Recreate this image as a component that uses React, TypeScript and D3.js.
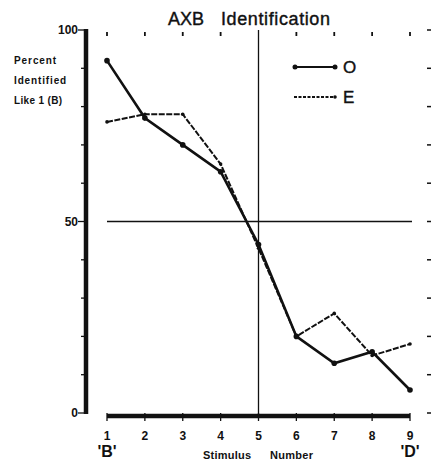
import React from 'react';
import { scaleLinear, line } from 'd3';

const stimuli = [1, 2, 3, 4, 5, 6, 7, 8, 9];
const observed = [92, 77, 70, 63, 44, 20, 13, 16, 6];
const expected = [76, 78, 78, 65, 43, 20, 26, 15, 18];
const yTicks = [0, 10, 20, 30, 40, 50, 60, 70, 80, 90, 100];
const yLabels = [0, 50, 100];
const endLabels = ["'B'", "'D'"];

const width = 432;
const height = 463;

const App = () => {
  const xScale = scaleLinear().domain([1, 9]).range([107, 410]);
  const yScale = scaleLinear().domain([0, 100]).range([413, 30]);

  const path = line<number>()
    .x((d, i) => xScale(stimuli[i]))
    .y(d => yScale(d));

  const font = 'Liberation Sans, Arial, sans-serif';
  const axisX = 86;
  const xEnd = xScale(9);

  return (
    <svg width={width} height={height} style={{ position: 'absolute', left: 0, top: 0, background: 'white' }} fontFamily={font}>
      {/* title */}
      <text x={168} y={25} fontSize={18} fill="#111" stroke="#111" strokeWidth={0.4}>AXB</text>
      <text x={221} y={25} fontSize={18} fill="#111" stroke="#111" strokeWidth={0.4} textLength={109}>Identification</text>

      {/* y axis label */}
      <text fontSize={10} fontWeight="bold" fill="#111" letterSpacing={-0.2}>
        <tspan x={14} y={64} textLength={42}>Percent</tspan>
        <tspan x={14} y={84} textLength={52}>Identified</tspan>
        <tspan x={14} y={104} textLength={48}>Like 1 (B)</tspan>
      </text>

      {/* left thick axis */}
      <line x1={axisX} x2={axisX} y1={yScale(100) - 1} y2={yScale(0) + 1} stroke="#111" strokeWidth={4.5} />
      {yTicks.map(t => (
        <line key={'l' + t} x1={axisX - (t % 50 === 0 ? 8 : 5)} x2={axisX} y1={yScale(t)} y2={yScale(t)} stroke="#111" strokeWidth={1.3} />
      ))}
      {yLabels.map(t => (
        <text key={'yl' + t} x={axisX - 8} y={yScale(t) + 4} textAnchor="end" fontSize={12} fontWeight="bold" fill="#111">{t}</text>
      ))}

      {/* right ticks */}
      {yTicks.map(t => (
        <line key={'r' + t} x1={427} x2={431} y1={yScale(t)} y2={yScale(t)} stroke="#111" strokeWidth={1.5} />
      ))}

      {/* top ticks */}
      {stimuli.filter(s => s !== 5).map(s => (
        <line key={'t' + s} x1={xScale(s)} x2={xScale(s)} y1={yScale(100) + 2} y2={yScale(100) + 6} stroke="#111" strokeWidth={1.8} />
      ))}

      {/* reference lines */}
      <line x1={xScale(5)} x2={xScale(5)} y1={yScale(100)} y2={yScale(0) + 3} stroke="#111" strokeWidth={1.3} />
      <line x1={xScale(1)} x2={xEnd + 2} y1={yScale(50)} y2={yScale(50)} stroke="#111" strokeWidth={1.3} />

      {/* bottom thick axis */}
      <line x1={xScale(1)} x2={xEnd} y1={yScale(0) + 3} y2={yScale(0) + 3} stroke="#111" strokeWidth={4.5} />
      {stimuli.map(s => (
        <line key={'b' + s} x1={xScale(s)} x2={xScale(s)} y1={yScale(0)} y2={yScale(0) + 8} stroke="#111" strokeWidth={1.3} />
      ))}
      {stimuli.map(s => (
        <text key={'bl' + s} x={xScale(s)} y={440} textAnchor="middle" fontSize={12} fontWeight="bold" fill="#111">{s}</text>
      ))}
      <text x={xScale(1)} y={457} textAnchor="middle" fontSize={16} fontWeight="bold" fill="#111">{endLabels[0]}</text>
      <text x={xScale(9)} y={457} textAnchor="middle" fontSize={16} fontWeight="bold" fill="#111">{endLabels[1]}</text>
      <text x={203} y={459} fontSize={11} fontWeight="bold" fill="#111" textLength={48}>Stimulus</text>
      <text x={270} y={459} fontSize={11} fontWeight="bold" fill="#111" textLength={43}>Number</text>

      {/* series */}
      <path d={path(expected) || ''} fill="none" stroke="#111" strokeWidth={2} strokeDasharray="6,1.5" />
      <path d={path(observed) || ''} fill="none" stroke="#111" strokeWidth={2.6} />
      {observed.map((v, i) => (
        <circle key={'o' + i} cx={xScale(stimuli[i])} cy={yScale(v)} r={2.8} fill="#111" />
      ))}
      {expected.map((v, i) => (
        <circle key={'e' + i} cx={xScale(stimuli[i])} cy={yScale(v)} r={1.8} fill="#111" />
      ))}

      {/* legend */}
      <line x1={295} x2={335} y1={67} y2={67} stroke="#111" strokeWidth={2.2} />
      <circle cx={295} cy={67} r={2.5} fill="#111" />
      <circle cx={335} cy={67} r={2.5} fill="#111" />
      <text x={343} y={73} fontSize={17} fill="#111" stroke="#111" strokeWidth={0.4}>O</text>
      <line x1={294} x2={335} y1={97} y2={97} stroke="#111" strokeWidth={2} strokeDasharray="3,1.5" />
      <circle cx={335} cy={97} r={1.8} fill="#111" />
      <text x={343} y={103} fontSize={17} fill="#111" stroke="#111" strokeWidth={0.4}>E</text>
    </svg>
  );
};

export default App;
